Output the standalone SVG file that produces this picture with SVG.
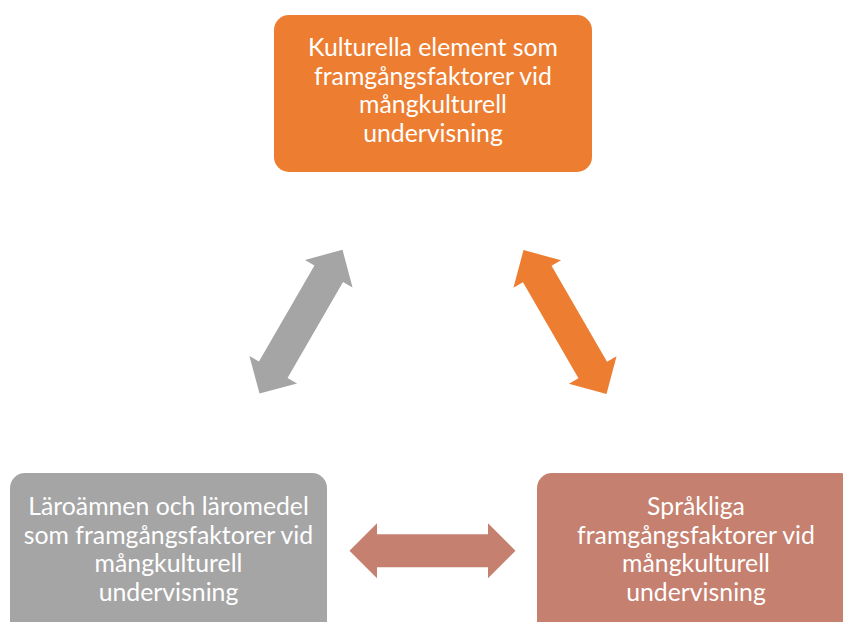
<svg xmlns="http://www.w3.org/2000/svg" width="843" height="622" viewBox="0 0 843 622">
<style>
.t{font-family:Lato,"Open Sans","Liberation Sans",sans-serif;font-size:24.8px;fill:#fff;text-anchor:middle}
</style>
<defs>
<polygon id="dbl" points="-83,0 -55.5,-27.5 -55.5,-16.5 55.5,-16.5 55.5,-27.5 83,0 55.5,27.5 55.5,16.5 -55.5,16.5 -55.5,27.5"/>
</defs>
<rect width="843" height="622" fill="#fff"/>
<g id="connectors">
<use href="#dbl" fill="#A5A5A5" transform="translate(301,321.7) rotate(-60)"/>
<use href="#dbl" fill="#ED7D31" transform="translate(565,322) rotate(60)"/>
<use href="#dbl" fill="#C5806F" transform="translate(432.5,550.8)"/>
</g>
<g id="top">
<rect x="274" y="15" width="318" height="157" rx="15" fill="#ED7D31"/>
<text class="t" x="433" y="56">Kulturella element som</text>
<text class="t" x="433" y="84.5">framgångsfaktorer vid</text>
<text class="t" x="433" y="113">mångkulturell</text>
<text class="t" x="433" y="141.5">undervisning</text>
</g>
<g id="left">
<rect x="10" y="473" width="317" height="170" rx="15" fill="#A5A5A5"/>
<text class="t" x="168.5" y="515">Läroämnen och läromedel</text>
<text class="t" x="168.5" y="543.5">som framgångsfaktorer vid</text>
<text class="t" x="168.5" y="572">mångkulturell</text>
<text class="t" x="168.5" y="600.5">undervisning</text>
</g>
<g id="right">
<rect x="537" y="473" width="318" height="170" rx="15" fill="#C5806F"/>
<text class="t" x="696" y="515">Språkliga</text>
<text class="t" x="696" y="543.5">framgångsfaktorer vid</text>
<text class="t" x="696" y="572">mångkulturell</text>
<text class="t" x="696" y="600.5">undervisning</text>
</g>
</svg>
